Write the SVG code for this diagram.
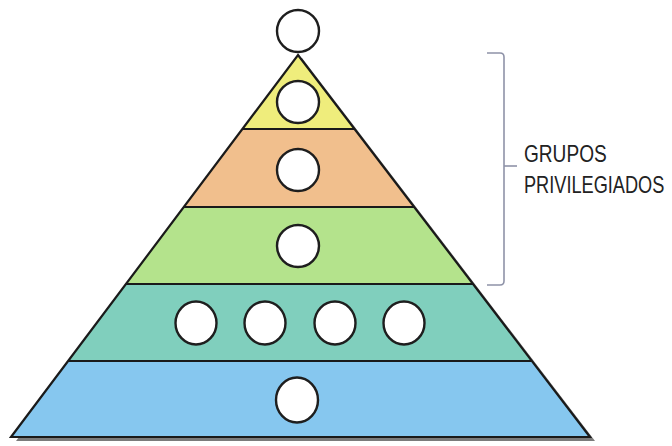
<svg xmlns="http://www.w3.org/2000/svg" width="672" height="446" viewBox="0 0 672 446">
  <style>
    .band { stroke: none; }
    .sep { stroke: #1a1a1a; stroke-width: 2.2; fill: none; }
    .outline { stroke: #1a1a1a; stroke-width: 2.2; fill: none; stroke-linejoin: miter; }
    .person { fill: #ffffff; stroke: #1e1e1e; stroke-width: 2.4; }
    .bracket { stroke: #8f93a8; stroke-width: 1.6; fill: none; }
    .label { font-family: "Liberation Sans", Arial, sans-serif; font-size: 23px; fill: #222222; }
  </style>
  <rect width="672" height="446" fill="#ffffff"/>

  <g id="shadow">
    <polygon points="302,58 595,441 16,441" fill="#7b7b7b"/>
  </g>

  <g id="band-yellow">
    <polygon class="band" points="298,55 354.6,129 242.4,129" fill="#efed7c"/>
  </g>
  <g id="band-orange">
    <polygon class="band" points="242.4,129 354.6,129 414.2,207 183.8,207" fill="#f1bf8d"/>
  </g>
  <g id="band-green">
    <polygon class="band" points="183.8,207 414.2,207 473,284 126,284" fill="#b4e38c"/>
  </g>
  <g id="band-teal">
    <polygon class="band" points="126,284 473,284 531.9,361 68.1,361" fill="#80cfbd"/>
  </g>
  <g id="band-blue">
    <polygon class="band" points="68.1,361 531.9,361 590,437 11,437" fill="#86c7ef"/>
  </g>

  <g id="separators">
    <line class="sep" x1="242.4" y1="129" x2="354.6" y2="129"/>
    <line class="sep" x1="183.8" y1="207" x2="414.2" y2="207"/>
    <line class="sep" x1="126" y1="284" x2="473" y2="284"/>
    <line class="sep" x1="68.1" y1="361" x2="531.9" y2="361"/>
  </g>
  <g id="pyramid-outline">
    <polygon class="outline" points="298,55 590,437 11,437"/>
  </g>

  <g id="person-top"><circle class="person" cx="298" cy="31" r="21"/></g>
  <g id="person-yellow"><circle class="person" cx="298" cy="102" r="21"/></g>
  <g id="person-orange"><circle class="person" cx="298" cy="170" r="21"/></g>
  <g id="person-green"><circle class="person" cx="298" cy="246" r="21"/></g>
  <g id="person-teal-1"><ellipse class="person" cx="196" cy="323" rx="20.5" ry="21.5"/></g>
  <g id="person-teal-2"><ellipse class="person" cx="265" cy="323" rx="20.5" ry="21.5"/></g>
  <g id="person-teal-3"><ellipse class="person" cx="335" cy="323" rx="20.5" ry="21.5"/></g>
  <g id="person-teal-4"><ellipse class="person" cx="404" cy="323" rx="20.5" ry="21.5"/></g>
  <g id="person-blue"><ellipse class="person" cx="297" cy="400" rx="21" ry="22.5"/></g>

  <g id="connectors">
    <path class="bracket" d="M487,53 L500,53 Q504,53 504,57 L504,281 Q504,285 500,285 L487,285"/>
    <line class="bracket" x1="504" y1="166" x2="517" y2="166"/>
  </g>

  <g id="label-privileged">
    <text class="label" transform="translate(524,162) scale(0.83,1)">GRUPOS</text>
    <text class="label" transform="translate(524,193) scale(0.79,1)">PRIVILEGIADOS</text>
  </g>
</svg>
